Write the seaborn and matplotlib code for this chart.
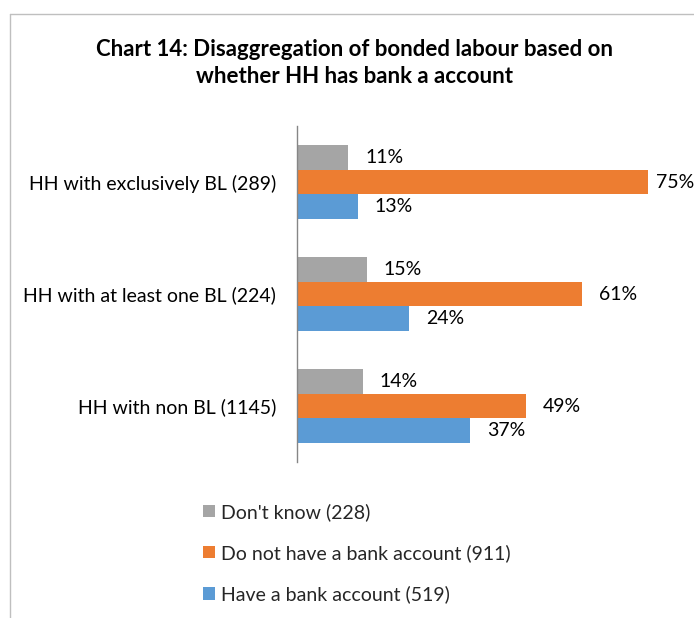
import matplotlib
matplotlib.use("Agg")
import matplotlib.pyplot as plt
import seaborn as sns
import pandas as pd
from matplotlib.lines import Line2D
from matplotlib.patches import Patch

categories = ["HH with exclusively BL (289)", "HH with at least one BL (224)", "HH with non BL (1145)"]
series = ["Don't know (228)", "Do not have a bank account (911)", "Have a bank account (519)"]
dont_know = [11, 15, 14]
no_account = [75, 61, 49]
has_account = [13, 24, 37]
colors = ["#A5A5A5", "#ED7D31", "#5B9BD5"]
title = "Chart 14: Disaggregation of bonded labour based on\nwhether HH has bank a account"

rows = []
for s, vals in zip(series, [dont_know, no_account, has_account]):
    for c, v in zip(categories, vals):
        rows.append({"category": c, "series": s, "value": v})
df = pd.DataFrame(rows)

sns.set_style("white")
plt.rcParams["font.family"] = ["Lato", "DejaVu Sans"]

FS = 14

fig = plt.figure(figsize=(6.94, 6.18), dpi=100)
ax = fig.add_axes([297/694, 1-462/618, (671.4-297)/694, (462-126)/618])

sns.barplot(data=df, y="category", x="value", hue="series", order=categories,
            hue_order=series, palette=colors, orient="h", width=0.66,
            saturation=1, ax=ax, legend=False, edgecolor="none", linewidth=0)

ax.set_xlim(0, 80)
ax.set_ylim(2.5, -0.5)
ax.set_xlabel("")
ax.set_ylabel("")
ax.set_xticks([])
for sp in ["top", "right", "bottom"]:
    ax.spines[sp].set_visible(False)
ax.spines["left"].set_color("#868686")
ax.spines["left"].set_linewidth(1)
ax.set_yticks(range(len(categories)))
ax.set_yticklabels(categories, fontsize=FS, color="#000000")
ax.set_yticks([-0.5, 0.5, 1.5, 2.5], minor=True)
ax.tick_params(axis="y", which="major", length=0, pad=15)
ax.tick_params(axis="y", which="minor", length=5, width=1, color="#868686", direction="out")

vmax = max(no_account)
for cont in ax.containers:
    for p in cont:
        w = p.get_width()
        y = p.get_y() + p.get_height()/2
        pad = 6 if w == vmax else 12
        ax.annotate(f"{w:.0f}%", (w, y), xytext=(pad, 0), textcoords="offset points",
                    ha="left", va="center", fontsize=FS, color="#000000",
                    annotation_clip=False)

fig.text(355/694, 1-63/618, title, ha="center", va="center", fontsize=16,
         fontweight="bold", linespacing=1.4, color="#000000")

handles = [Patch(facecolor=c, edgecolor="none") for c in colors]
fig.legend(handles, series, loc="upper left", bbox_to_anchor=(203/694, 1-503/618),
           frameon=False, fontsize=FS, handlelength=0.6, handleheight=0.6,
           handletextpad=0.35, labelspacing=1.2, borderpad=0, borderaxespad=0)

# outer chart frame
fig.add_artist(Line2D([10/694, 10/694], [0, 1-14/618], transform=fig.transFigure,
                      color="#BFBFBF", linewidth=1))
fig.add_artist(Line2D([10/694, 1], [1-14/618, 1-14/618], transform=fig.transFigure,
                      color="#BFBFBF", linewidth=1))

fig.savefig("out.png", dpi=100, facecolor="white")
